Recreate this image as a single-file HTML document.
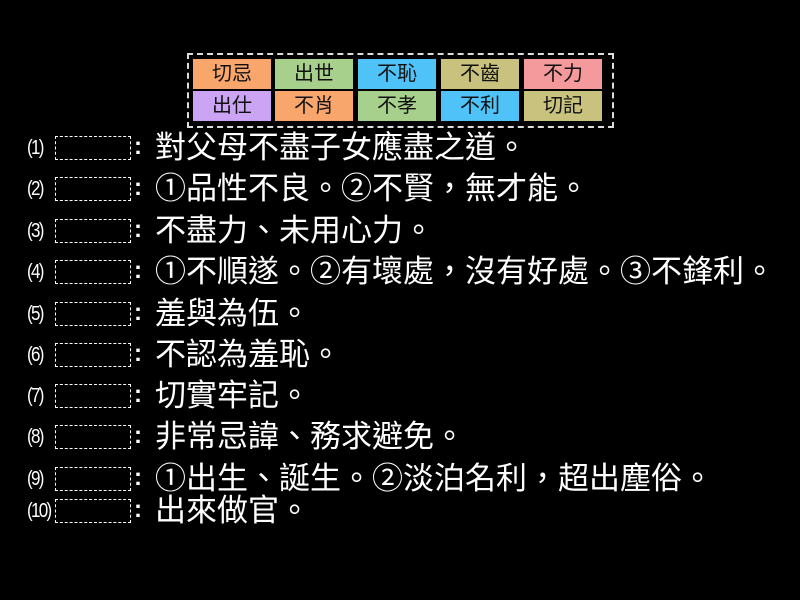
<!DOCTYPE html>
<html><head><meta charset="utf-8"><style>
html,body{margin:0;padding:0;background:#000;width:800px;height:600px;overflow:hidden;font-family:"Liberation Sans","Noto Sans CJK TC",sans-serif;}
.outer{position:absolute;left:187px;top:53px;width:423px;height:71px;border:2px dashed #ddd;}
.c{position:absolute;width:78px;height:30px;line-height:30px;text-align:center;font-size:20px;color:#111;}
.row{position:absolute;left:0;width:800px;height:30px;}
.n{position:absolute;left:27px;top:0;font-size:20px;color:#fff;line-height:30px;letter-spacing:-2px;font-family:"Liberation Sans Narrow","Liberation Sans",sans-serif;transform:scaleX(0.85);transform-origin:left;}
.b{position:absolute;left:55px;top:3px;width:74px;height:22px;border:1px dashed #fff;}
.co{position:absolute;left:134px;top:0;font-size:24px;color:#fff;line-height:28px;font-weight:bold;}
.t{position:absolute;left:155px;top:-2px;font-size:31px;color:#fff;line-height:34px;white-space:nowrap;}
</style></head><body>
<div class="outer"></div>
<div class="c" style="left:193px;top:59px;background:#f8a66c">切忌</div>
<div class="c" style="left:275px;top:59px;background:#a8d08d">出世</div>
<div class="c" style="left:358px;top:59px;background:#4fc3f7">不恥</div>
<div class="c" style="left:441px;top:59px;background:#c9c27e">不齒</div>
<div class="c" style="left:524px;top:59px;background:#f49a9c">不力</div>
<div class="c" style="left:193px;top:91px;background:#cba4f4">出仕</div>
<div class="c" style="left:275px;top:91px;background:#f8a66c">不肖</div>
<div class="c" style="left:358px;top:91px;background:#a8d08d">不孝</div>
<div class="c" style="left:441px;top:91px;background:#4fc3f7">不利</div>
<div class="c" style="left:524px;top:91px;background:#c9c27e">切記</div>

<div class="row" style="top:133px"><span class="n">(1)</span><div class="b"></div><span class="co">:</span><span class="t">對父母不盡子女應盡之道。</span></div>
<div class="row" style="top:174px"><span class="n">(2)</span><div class="b"></div><span class="co">:</span><span class="t">①品性不良。②不賢，無才能。</span></div>
<div class="row" style="top:216px"><span class="n">(3)</span><div class="b"></div><span class="co">:</span><span class="t">不盡力、未用心力。</span></div>
<div class="row" style="top:257px"><span class="n">(4)</span><div class="b"></div><span class="co">:</span><span class="t">①不順遂。②有壞處，沒有好處。③不鋒利。</span></div>
<div class="row" style="top:299px"><span class="n">(5)</span><div class="b"></div><span class="co">:</span><span class="t">羞與為伍。</span></div>
<div class="row" style="top:340px"><span class="n">(6)</span><div class="b"></div><span class="co">:</span><span class="t">不認為羞恥。</span></div>
<div class="row" style="top:381px"><span class="n">(7)</span><div class="b"></div><span class="co">:</span><span class="t">切實牢記。</span></div>
<div class="row" style="top:422px"><span class="n">(8)</span><div class="b"></div><span class="co">:</span><span class="t">非常忌諱、務求避免。</span></div>
<div class="row" style="top:464px"><span class="n">(9)</span><div class="b"></div><span class="co">:</span><span class="t">①出生、誕生。②淡泊名利，超出塵俗。</span></div>
<div class="row" style="top:496px"><span class="n">(10)</span><div class="b"></div><span class="co">:</span><span class="t">出來做官。</span></div>
</body></html>
